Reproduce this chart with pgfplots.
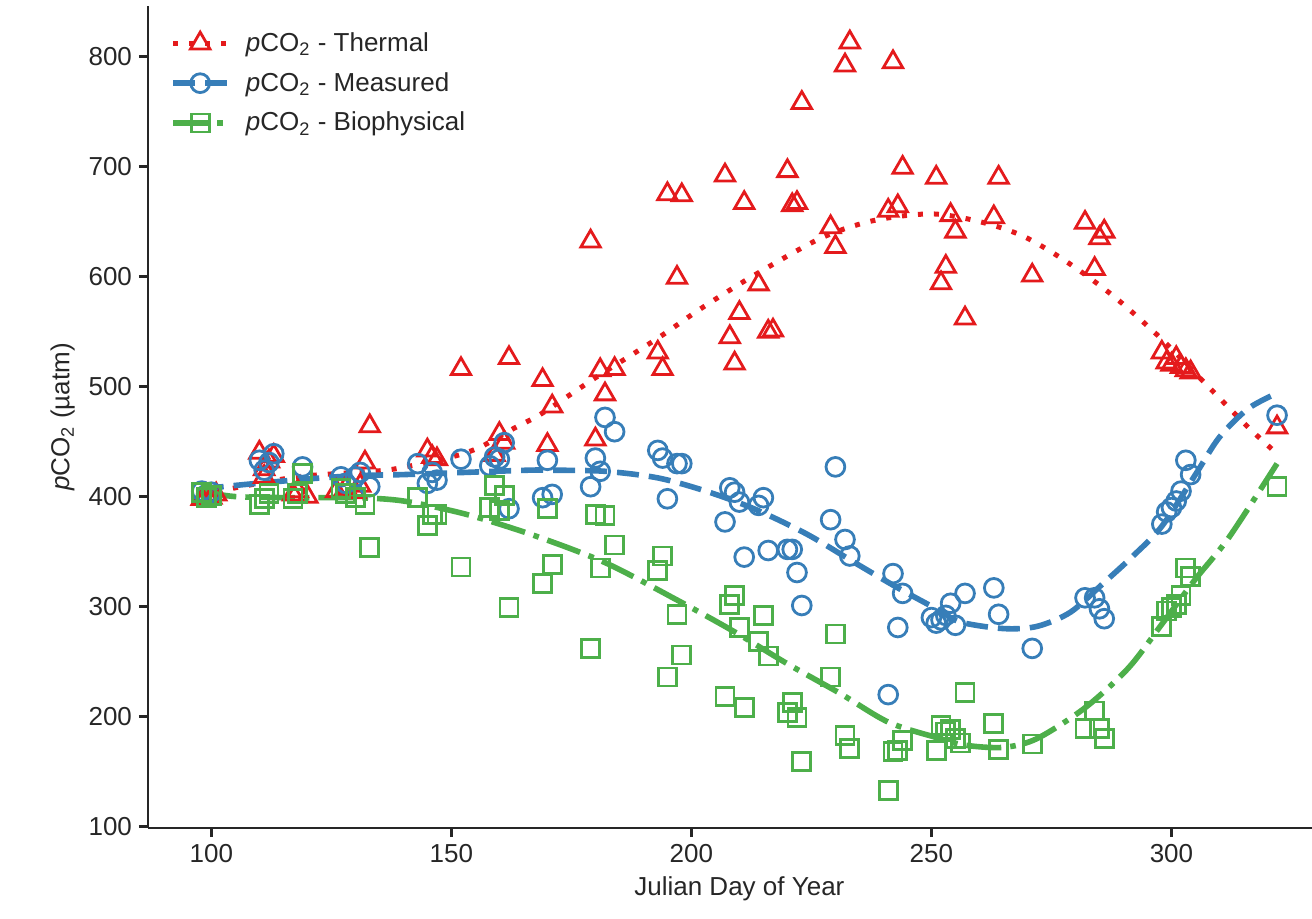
\documentclass[border=0pt]{standalone}
\usepackage{pgfplots}
\pgfplotsset{compat=1.18}
\usepackage{fontspec}
\setmainfont{Liberation Sans}
\definecolor{cred}{HTML}{E41A1C}
\definecolor{cblue}{HTML}{377EB8}
\definecolor{cgreen}{HTML}{4DAF4A}
\definecolor{ctext}{HTML}{262626}
\newcommand{\fs}{\fontsize{13pt}{15.6pt}\selectfont}
\begin{document}
\begin{tikzpicture}
\begin{axis}[
 scale only axis, width=591.4pt, height=411pt,
 xmin=86.8, xmax=333.2, ymin=98.7, ymax=846,
 axis x line*=bottom, axis y line*=left,
 axis line style={-, draw=ctext, line width=1.25pt},
 tick style={draw=ctext, line width=1.25pt},
 tick align=outside, major tick length=4.5pt,
 xtick={100,150,...,300}, ytick={100,200,...,800},
 /pgf/number format/assume math mode=true,
 tick label style={font=\fs, text=ctext},
 label style={font=\fs, text=ctext},
 xlabel={Julian Day of Year},
 ylabel={\textit{p}CO\textsubscript{2} (µatm)},
 legend cell align=left,
 legend style={at={(0,1)}, anchor=north west, xshift=11pt, yshift=-11pt,
   draw=none, fill=none, font=\fs, text=ctext, inner sep=0pt, row sep=5pt,
   /tikz/every odd column/.style={column sep=6pt}},
 legend image code/.code={
   \draw[#1] (0pt,0pt) -- (27pt,0pt);
   \draw[#1] plot coordinates {(13.5pt,0pt)};
 },
]
% Thermal
\addplot[forget plot, only marks, mark=triangle, mark size=5.6pt, mark options={draw=cred, fill=none, line width=1.4pt}] coordinates {
(98,398)(99,401)(100,399)(101,402)
(110,440)(111,425)(112,432)(113,437)(111,418)
(117,402)(118,405)(120,400)
(126,405)(128,408)(130,404)(131,410)(132,431)(133,464)
(145,442)(146,436)(147,434)
(152,516)
(159,438)(160,457)(161,449)
(162,526)
(169,506)(170,447)(171,482)
(179,632)(180,452)(181,515)(182,493)(184,516)
(193,531)(194,516)(195,675)(197,599)(198,674)
(207,692)(208,545)(209,521)(210,567)(211,667)
(214,593)(216,550)(217,551)
(220,696)(221,665)(222,667)(223,758)
(229,645)(230,627)(232,792)(233,813)
(241,660)(242,795)(243,664)(244,699)
(251,690)(252,594)(253,609)(254,656)(255,641)(257,562)
(263,654)(264,690)(271,601)
(282,649)(284,607)(285,635)(286,641)
(298,531)(299,522)(300,520)(301,526)(302,518)(303,515)(304,513)
(322,463)
};
% Measured
\addplot[forget plot, only marks, mark=o, mark size=4.7pt, mark options={draw=cblue, fill=none, line width=1.4pt}] coordinates {
(98,405)(99,402)(100,404)
(110,433)(111,424)(112,431)(113,439)
(119,427)
(127,418)(128,412)(130,418)(131,422)(133,409)
(143,430)(145,412)(146,422)(147,415)
(152,434)
(158,428)(159,436)(160,434)(161,449)(162,389)
(169,399)(170,433)(171,402)
(179,409)(180,435)(181,423)(182,472)(184,459)
(193,442)(194,435)(195,398)(197,430)(198,430)
(207,377)(208,408)(209,404)(210,395)(211,345)
(214,392)(215,399)(216,351)
(220,352)(221,352)(222,331)(223,301)
(229,379)(230,427)(232,361)(233,346)
(241,220)(242,330)(243,281)(244,312)
(250,290)(251,285)(252,288)(253,292)(254,303)(255,283)(257,312)
(263,317)(264,293)
(271,262)
(282,308)(284,308)(285,298)(286,289)
(298,375)(299,386)(300,390)(301,396)(302,405)(303,433)(304,420)
(322,474)
};
% Biophysical
\addplot[forget plot, only marks, mark=square, mark size=4.5pt, mark options={draw=cgreen, fill=none, line width=1.4pt}] coordinates {
(98,404)(99,399)(100,401)
(110,393)(111,398)(112,403)
(117,398)(118,403)(119,421)
(127,407)(128,403)(130,399)(132,393)(133,354)
(143,399)(145,374)(146,384)(147,384)
(152,336)
(158,390)(159,410)(160,387)(161,401)(162,299)
(169,321)(170,389)(171,338)
(179,262)(180,384)(181,335)(182,383)(184,356)
(193,333)(194,346)(195,236)(197,293)(198,256)
(207,218)(208,302)(209,310)(210,281)(211,208)
(214,268)(215,292)(216,255)
(220,204)(221,213)(222,199)(223,159)
(229,236)(230,275)(232,183)(233,171)
(241,133)(242,168)(243,169)(244,178)
(251,169)(252,192)(253,186)(254,188)(255,180)(256,176)(257,222)
(263,194)(264,170)
(271,175)
(282,189)(284,205)(285,189)(286,180)
(298,282)(299,296)(300,299)(301,302)(302,310)(303,335)(304,327)
(322,409)
};
% fitted curves
\addplot[forget plot, smooth, no marks, draw=cred, line width=2.5pt, dash pattern=on 2.5pt off 5.5pt] coordinates {
(98,401)(105,408)(118,418)(130,422)(138,425)(150,436)(156,445)(163,462)(169,476)(180,508)(193,544)(202,571)(213,601)(227,635)(238,651)(250,657)(260,650)(269,637)(278,614)(288,582)(298,543)(307,503)(316,463)(322,439)
};
\addplot[forget plot, smooth, no marks, draw=cblue, line width=2.8pt, dash pattern=on 11pt off 5pt] coordinates {
(98,407)(107,411)(120,416)(130,419)(140,420)(153,422)(166,424)(171,424)(182,423)(193,417)(203,405)(213,389)(224,366)(234,340)(243,317)(251,298)(256,286)(265,280)(272,282)(279,295)(286,322)(292,346)(298,373)(305,420)(310,454)(316,480)(322,494)
};
\addplot[forget plot, smooth, no marks, draw=cgreen, line width=2.8pt, dash pattern=on 17.5pt off 4.5pt on 2.8pt off 4.5pt] coordinates {
(98,405)(105,400)(118,399)(130,399)(140,396)(153,384)(167,365)(182,340)(197,306)(209,277)(220,248)(231,221)(241,195)(251,181)(257,174)(265,172)(272,180)(282,208)(291,244)(298,284)(305,325)(312,363)(322,430)
};
\addlegendimage{draw=cred, line width=2.5pt, dash pattern=on 2.5pt off 5.5pt, mark=triangle, mark size=5.6pt, mark options={solid, fill=none, line width=1.4pt}}
\addlegendentry{\textit{p}CO\textsubscript{2} - Thermal}
\addlegendimage{draw=cblue, line width=2.8pt, dash pattern=on 11pt off 5pt, mark=o, mark size=4.7pt, mark options={solid, fill=none, line width=1.4pt}}
\addlegendentry{\textit{p}CO\textsubscript{2} - Measured}
\addlegendimage{draw=cgreen, line width=2.8pt, dash pattern=on 17.5pt off 4.5pt on 2.8pt off 4.5pt, mark=square, mark size=4.5pt, mark options={solid, fill=none, line width=1.4pt}}
\addlegendentry{\textit{p}CO\textsubscript{2} - Biophysical}
\end{axis}
\pgfresetboundingbox
\path[use as bounding box] (-74pt,-45pt) rectangle (582pt,414pt);
\end{tikzpicture}
\end{document}
